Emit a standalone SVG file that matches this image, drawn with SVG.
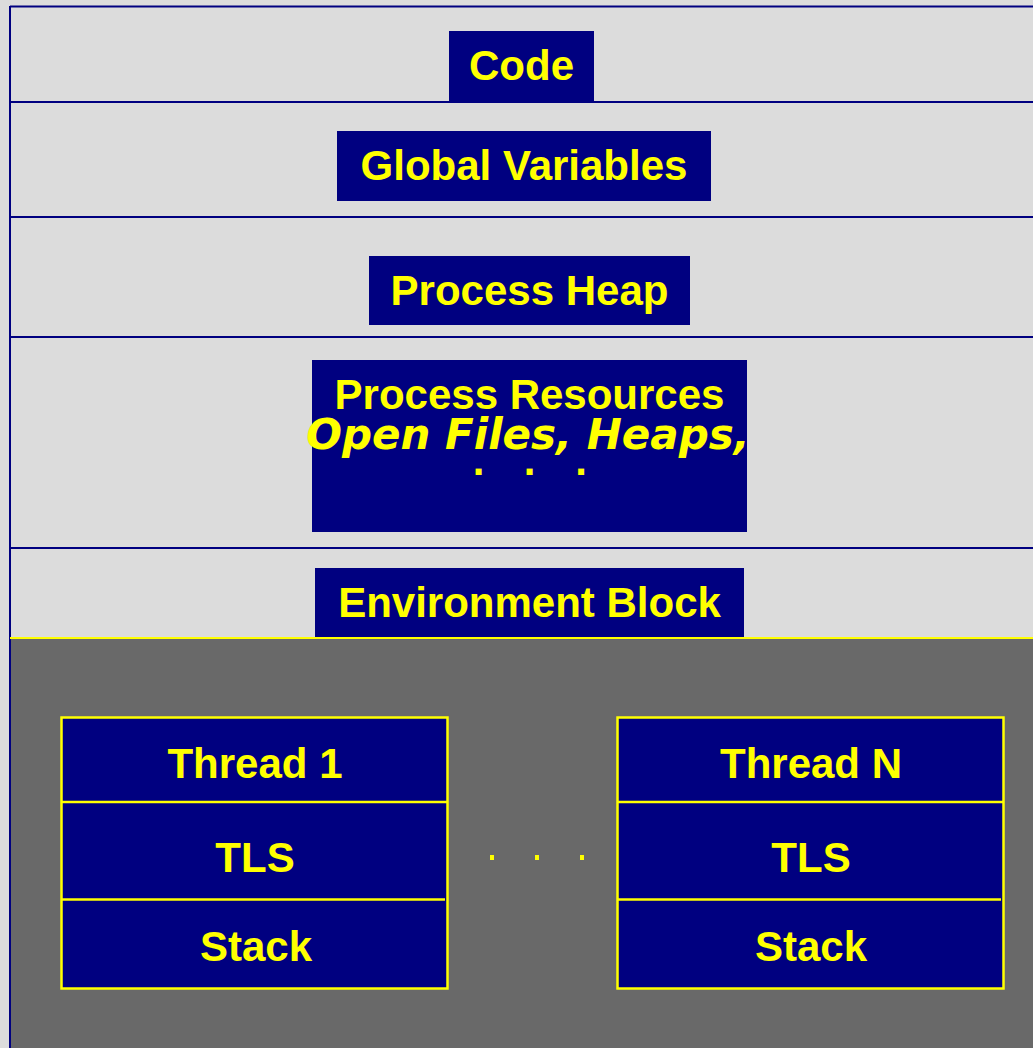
<svg xmlns="http://www.w3.org/2000/svg" width="1033" height="1048" viewBox="0 0 1033 1048">
<style>
.box{fill:#000080}
.lbl{font-family:"Liberation Sans",Arial,sans-serif;font-weight:bold;font-size:42px;fill:#FFFF00;text-anchor:middle}
.ital{font-family:"DejaVu Sans",sans-serif;font-weight:bold;font-style:oblique;font-size:42px;fill:#FFFF00;text-anchor:middle}
.nav{stroke:#000080;stroke-width:2;fill:none}
.ylw{stroke:#FFFF00;stroke-width:2.5;fill:none}
</style>
<rect x="0" y="0" width="1033" height="1048" fill="#DCDCDC"/>
<rect x="10" y="638" width="1023" height="410" fill="#696969"/>
<g id="connectors">
<line class="nav" x1="10" y1="6.5" x2="1033" y2="6.5"/>
<line class="nav" x1="10" y1="6" x2="10" y2="1048"/>
<line class="nav" x1="9" y1="102" x2="1033" y2="102"/>
<line class="nav" x1="9" y1="217" x2="1033" y2="217"/>
<line class="nav" x1="9" y1="337" x2="1033" y2="337"/>
<line class="nav" x1="9" y1="548" x2="1033" y2="548"/>
<line x1="10" y1="638" x2="1033" y2="638" stroke="#FFFF00" stroke-width="2"/>
</g>
<g id="code">
<rect class="box" x="449" y="31" width="145" height="70"/>
<text class="lbl" x="521.5" y="80">Code</text>
</g>
<g id="globals">
<rect class="box" x="337" y="131" width="374" height="70"/>
<text class="lbl" x="524" y="180">Global Variables</text>
</g>
<g id="heap">
<rect class="box" x="369" y="256" width="321" height="69"/>
<text class="lbl" x="529.5" y="305">Process Heap</text>
</g>
<g id="resources">
<rect class="box" x="312" y="360" width="435" height="172"/>
<text class="lbl" x="529.5" y="409">Process Resources</text>
<text class="ital" x="528" y="449">Open Files, Heaps,</text>
<text class="lbl" x="478.5" y="475">.</text>
<text class="lbl" x="529.5" y="475">.</text>
<text class="lbl" x="581" y="475">.</text>
</g>
<g id="env">
<rect class="box" x="315" y="568" width="429" height="69"/>
<text class="lbl" x="529.5" y="617">Environment Block</text>
</g>
<g id="thread1">
<rect class="box" x="61.5" y="717.5" width="386" height="271"/>
<rect class="ylw" x="61.5" y="717.5" width="386" height="271"/>
<line class="ylw" x1="61.5" y1="802" x2="447.5" y2="802"/>
<line class="ylw" x1="61.5" y1="899.5" x2="445" y2="899.5"/>
<text class="lbl" x="255" y="778">Thread 1</text>
<text class="lbl" x="255" y="872">TLS</text>
<text class="lbl" x="256" y="961">Stack</text>
</g>
<g id="threadN">
<rect class="box" x="617.5" y="717.5" width="386" height="271"/>
<rect class="ylw" x="617.5" y="717.5" width="386" height="271"/>
<line class="ylw" x1="617.5" y1="802" x2="1003.5" y2="802"/>
<line class="ylw" x1="617.5" y1="899.5" x2="1001" y2="899.5"/>
<text class="lbl" x="811" y="778">Thread N</text>
<text class="lbl" x="811" y="872">TLS</text>
<text class="lbl" x="811" y="961">Stack</text>
</g>
<g id="ellipsis">
<rect x="490" y="855" width="4" height="5" fill="#FFFF00"/>
<rect x="535" y="855" width="4" height="5" fill="#FFFF00"/>
<rect x="580" y="855" width="4" height="5" fill="#FFFF00"/>
</g>
</svg>
